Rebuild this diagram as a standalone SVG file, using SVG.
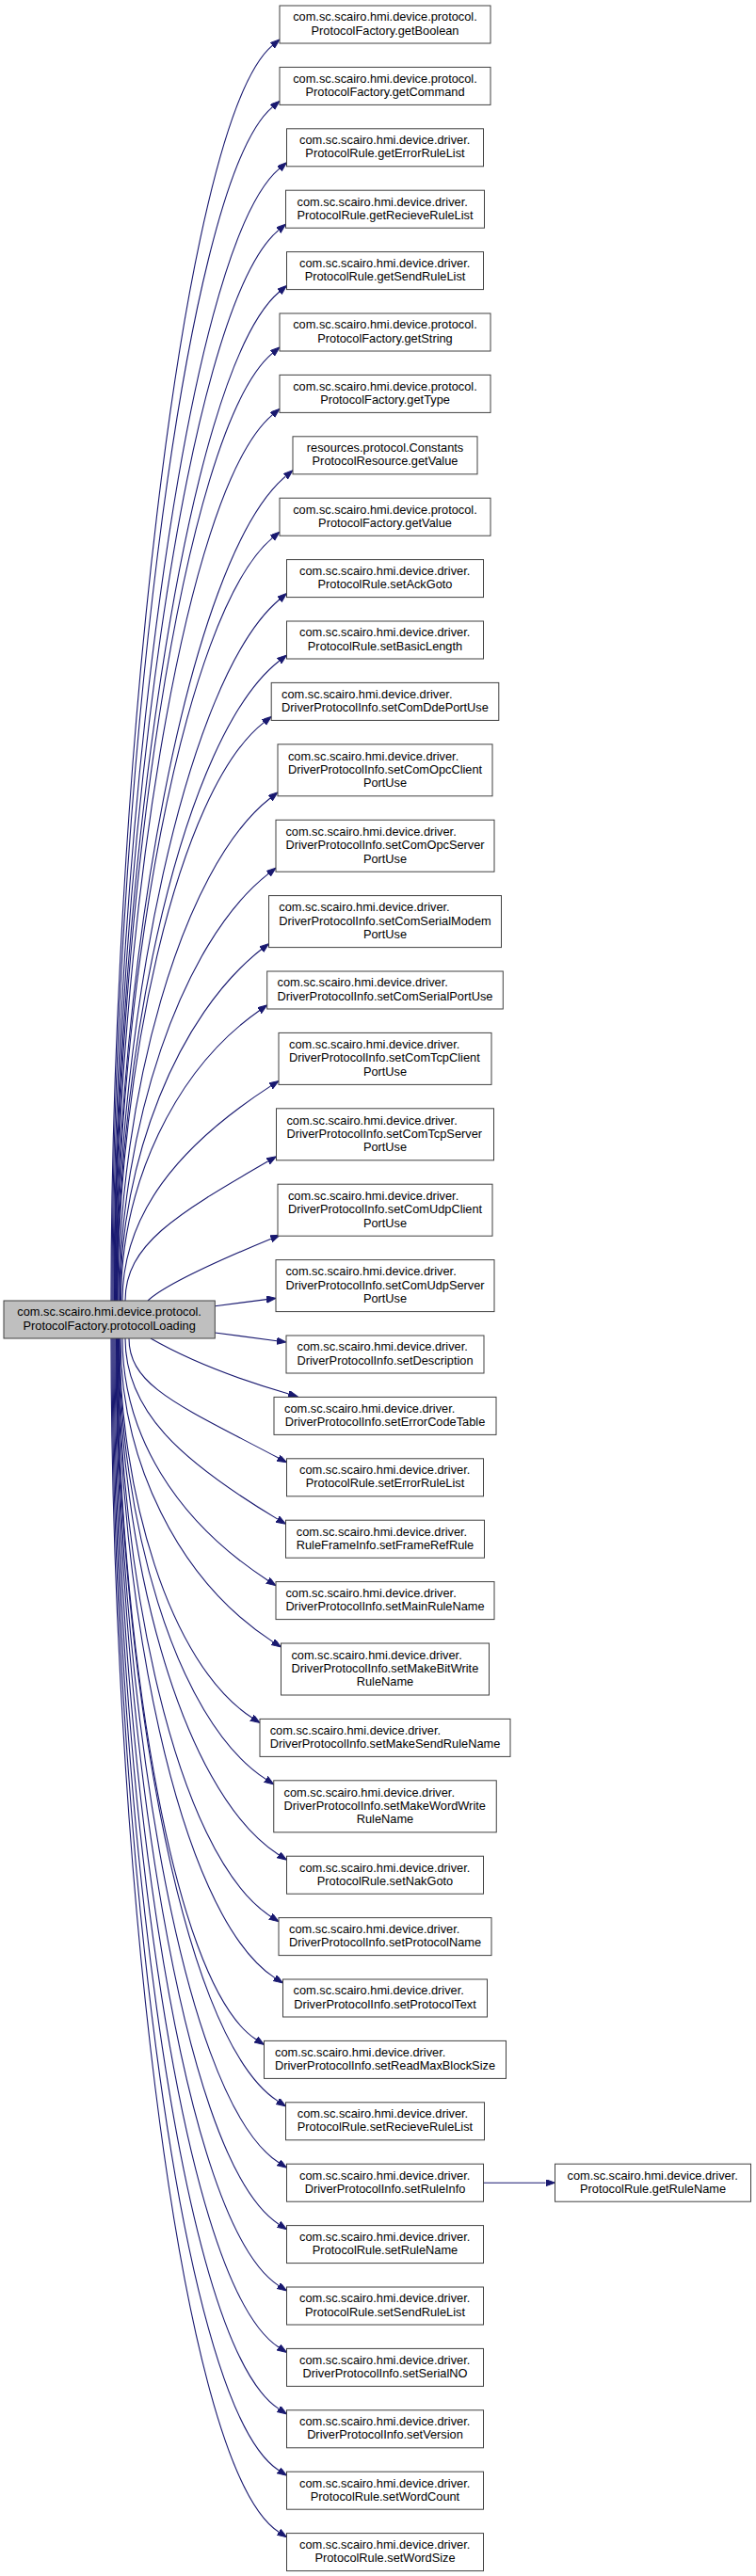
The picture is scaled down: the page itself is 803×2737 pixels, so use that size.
<svg xmlns="http://www.w3.org/2000/svg" width="803" height="2737" viewBox="0 0 803 2737">
<style>
rect{fill:#fff;stroke:#404040;stroke-width:1}
.m rect{fill:#bfbfbf}
text{font-family:"Liberation Sans",Arial,sans-serif;font-size:12.8px;fill:#000}
.c{text-anchor:middle}
#edges path{fill:none;stroke:#191970;stroke-width:1.1;marker-end:url(#ah)}
</style>
<defs>
<marker id="ah" markerWidth="11" markerHeight="8" refX="0" refY="3.6" orient="auto" markerUnits="userSpaceOnUse"><path d="M0,0 L10,3.6 L0,7.2 z" fill="#191970" stroke="#191970" stroke-width="1"/></marker>
</defs>
<g id="edges">
<path d="M118,1382 C118,848.6 190.9,131 289.3,48.4"/>
<path d="M119,1382 C119,874.7 191.5,195.9 289.3,113.8"/>
<path d="M120,1382 C120,900.9 195.2,264.5 296.8,179.2"/>
<path d="M121,1382 C121,927 195.4,328.9 295.8,244.6"/>
<path d="M121.5,1382 C121.5,953.2 196.1,394.6 296.8,310"/>
<path d="M122,1382 C122,979.4 193.2,456.1 289.3,375.4"/>
<path d="M122.5,1382 C122.5,1005.5 193.5,521.2 289.3,440.8"/>
<path d="M123,1382 C123,1031.7 199.7,593.1 303.3,506.2"/>
<path d="M123.5,1382 C123.5,1057.8 194,651.6 289.3,571.6"/>
<path d="M124,1382 C124,1084 197.5,720.3 296.8,637"/>
<path d="M124.5,1382 C124.5,1110.1 194.9,781.7 296.6,702.2"/>
<path d="M125,1382 C125,1136.2 188.5,839.4 280.3,767.6"/>
<path d="M126,1382 C126,1168.4 191.9,922.4 287.1,848"/>
<path d="M127,1382 C127,1200.6 191.6,1001.5 285.1,928.4"/>
<path d="M127.5,1382 C127.5,1232.7 188.9,1078.2 277.6,1008.8"/>
<path d="M128.5,1382 C128.5,1258.7 185.2,1137 275.5,1073.7"/>
<path d="M130,1382 C130,1290.8 188.4,1218.3 287.6,1153.9"/>
<path d="M133,1382 C133,1322.7 186.2,1290.8 284.8,1233.8"/>
<path d="M157,1382 C175,1365 240,1336 287.9,1316.2"/>
<path d="M228.3,1387.7 L283.1,1380.6"/>
<path d="M228.3,1416 L294.1,1424.7"/>
<path d="M160,1422 C200,1445 255,1466 306.6,1481"/>
<path d="M137,1422 C137,1472.8 190.6,1493.3 295.7,1549.1"/>
<path d="M133,1422 C133,1498.8 190.9,1551.6 294.9,1614.1"/>
<path d="M130,1422 C130,1524.9 187.3,1616 284.6,1679.2"/>
<path d="M128,1422 C128,1551 188.1,1678.3 290.1,1744.6"/>
<path d="M127,1422 C127,1583.2 179.1,1767.5 267.6,1825"/>
<path d="M126.5,1422 C126.5,1609.4 184.3,1826.7 282.4,1890.4"/>
<path d="M126,1422 C126,1641.5 189,1901.3 296.1,1970.8"/>
<path d="M125.5,1422 C125.5,1667.7 185.6,1969.9 287.6,2036.2"/>
<path d="M125,1422 C125,1693.8 187,2033.3 292.1,2101.6"/>
<path d="M124.5,1422 C124.5,1720 179.2,2106.7 272.1,2167"/>
<path d="M124,1422 C124,1746.2 187.5,2162.5 295.1,2232.4"/>
<path d="M123.5,1422 C123.5,1772.3 187.4,2227.2 296.1,2297.8"/>
<path d="M123,1422 C123,1798.5 187.2,2292.5 296.1,2363.2"/>
<path d="M122,1422 C122,1824.6 186.5,2357.4 296.1,2428.6"/>
<path d="M121,1422 C121,1850.8 185.9,2422.4 296.1,2494"/>
<path d="M120,1422 C120,1877 185.3,2487.4 296.1,2559.4"/>
<path d="M119,1422 C119,1903.1 184.7,2552.4 296.1,2624.8"/>
<path d="M118,1422 C118,1929.3 184,2617.4 296.1,2690.2"/>
<path d="M513.5,2319.2 L579.5,2319.2"/>
</g>
<g id="main" class="m"><rect x="4" y="1382" width="224.3" height="40"/><text x="18.35" y="1398.35">com.sc.scairo.hmi.device.protocol.</text><text class="c" x="116.15" y="1412.65">ProtocolFactory.protocolLoading</text></g>
<g id="n1"><rect x="297" y="6" width="224" height="40"/><text x="311.2" y="22.35">com.sc.scairo.hmi.device.protocol.</text><text class="c" x="409" y="36.65">ProtocolFactory.getBoolean</text></g>
<g id="n2"><rect x="297" y="71.4" width="224" height="40"/><text x="311.2" y="87.75">com.sc.scairo.hmi.device.protocol.</text><text class="c" x="409" y="102.05">ProtocolFactory.getCommand</text></g>
<g id="n3"><rect x="304.5" y="136.8" width="209" height="40"/><text x="318" y="153.15">com.sc.scairo.hmi.device.driver.</text><text class="c" x="409" y="167.45">ProtocolRule.getErrorRuleList</text></g>
<g id="n4"><rect x="303.5" y="202.2" width="211" height="40"/><text x="315.5" y="218.55">com.sc.scairo.hmi.device.driver.</text><text class="c" x="409" y="232.85">ProtocolRule.getRecieveRuleList</text></g>
<g id="n5"><rect x="304.5" y="267.6" width="209" height="40"/><text x="318" y="283.95">com.sc.scairo.hmi.device.driver.</text><text class="c" x="409" y="298.25">ProtocolRule.getSendRuleList</text></g>
<g id="n6"><rect x="297" y="333" width="224" height="40"/><text x="311.2" y="349.35">com.sc.scairo.hmi.device.protocol.</text><text class="c" x="409" y="363.65">ProtocolFactory.getString</text></g>
<g id="n7"><rect x="297" y="398.4" width="224" height="40"/><text x="311.2" y="414.75">com.sc.scairo.hmi.device.protocol.</text><text class="c" x="409" y="429.05">ProtocolFactory.getType</text></g>
<g id="n8"><rect x="311" y="463.8" width="196" height="40"/><text x="325.8" y="480.15">resources.protocol.Constants</text><text class="c" x="409" y="494.45">ProtocolResource.getValue</text></g>
<g id="n9"><rect x="297" y="529.2" width="224" height="40"/><text x="311.2" y="545.55">com.sc.scairo.hmi.device.protocol.</text><text class="c" x="409" y="559.85">ProtocolFactory.getValue</text></g>
<g id="n10"><rect x="304.5" y="594.6" width="209" height="40"/><text x="318" y="610.95">com.sc.scairo.hmi.device.driver.</text><text class="c" x="409" y="625.25">ProtocolRule.setAckGoto</text></g>
<g id="n11"><rect x="304.5" y="660" width="209" height="40"/><text x="318" y="676.35">com.sc.scairo.hmi.device.driver.</text><text class="c" x="409" y="690.65">ProtocolRule.setBasicLength</text></g>
<g id="n12"><rect x="288.2" y="725.4" width="241.6" height="40"/><text x="299.1" y="741.75">com.sc.scairo.hmi.device.driver.</text><text class="c" x="409" y="756.05">DriverProtocolInfo.setComDdePortUse</text></g>
<g id="n13"><rect x="295" y="790.8" width="228" height="55"/><text x="305.9" y="807.5">com.sc.scairo.hmi.device.driver.</text><text x="305.9" y="821.8">DriverProtocolInfo.setComOpcClient</text><text class="c" x="409" y="836.1">PortUse</text></g>
<g id="n14"><rect x="293" y="871.2" width="232" height="55"/><text x="303.4" y="887.9">com.sc.scairo.hmi.device.driver.</text><text x="303.4" y="902.2">DriverProtocolInfo.setComOpcServer</text><text class="c" x="409" y="916.5">PortUse</text></g>
<g id="n15"><rect x="285.5" y="951.6" width="247" height="55"/><text x="296.3" y="968.3">com.sc.scairo.hmi.device.driver.</text><text x="296.3" y="982.6">DriverProtocolInfo.setComSerialModem</text><text class="c" x="409" y="996.9">PortUse</text></g>
<g id="n16"><rect x="283.7" y="1032" width="250.6" height="40"/><text x="294.5" y="1048.35">com.sc.scairo.hmi.device.driver.</text><text class="c" x="409" y="1062.65">DriverProtocolInfo.setComSerialPortUse</text></g>
<g id="n17"><rect x="296" y="1097.4" width="226" height="55"/><text x="307" y="1114.1">com.sc.scairo.hmi.device.driver.</text><text x="307" y="1128.4">DriverProtocolInfo.setComTcpClient</text><text class="c" x="409" y="1142.7">PortUse</text></g>
<g id="n18"><rect x="293.5" y="1177.8" width="231" height="55"/><text x="304.4" y="1194.5">com.sc.scairo.hmi.device.driver.</text><text x="304.4" y="1208.8">DriverProtocolInfo.setComTcpServer</text><text class="c" x="409" y="1223.1">PortUse</text></g>
<g id="n19"><rect x="295" y="1258.2" width="228" height="55"/><text x="305.9" y="1274.9">com.sc.scairo.hmi.device.driver.</text><text x="305.9" y="1289.2">DriverProtocolInfo.setComUdpClient</text><text class="c" x="409" y="1303.5">PortUse</text></g>
<g id="n20"><rect x="293" y="1338.6" width="232" height="55"/><text x="303.4" y="1355.3">com.sc.scairo.hmi.device.driver.</text><text x="303.4" y="1369.6">DriverProtocolInfo.setComUdpServer</text><text class="c" x="409" y="1383.9">PortUse</text></g>
<g id="n21"><rect x="304" y="1419" width="210" height="40"/><text x="315.5" y="1435.35">com.sc.scairo.hmi.device.driver.</text><text class="c" x="409" y="1449.65">DriverProtocolInfo.setDescription</text></g>
<g id="n22"><rect x="291" y="1484.4" width="236" height="40"/><text x="302" y="1500.75">com.sc.scairo.hmi.device.driver.</text><text class="c" x="409" y="1515.05">DriverProtocolInfo.setErrorCodeTable</text></g>
<g id="n23"><rect x="304.5" y="1549.8" width="209" height="40"/><text x="318" y="1566.15">com.sc.scairo.hmi.device.driver.</text><text class="c" x="409" y="1580.45">ProtocolRule.setErrorRuleList</text></g>
<g id="n24"><rect x="303.5" y="1615.2" width="211" height="40"/><text x="314.8" y="1631.55">com.sc.scairo.hmi.device.driver.</text><text class="c" x="409" y="1645.85">RuleFrameInfo.setFrameRefRule</text></g>
<g id="n25"><rect x="293" y="1680.6" width="232" height="40"/><text x="303.4" y="1696.95">com.sc.scairo.hmi.device.driver.</text><text class="c" x="409" y="1711.25">DriverProtocolInfo.setMainRuleName</text></g>
<g id="n26"><rect x="298.5" y="1746" width="221" height="55"/><text x="309.4" y="1762.7">com.sc.scairo.hmi.device.driver.</text><text x="309.4" y="1777">DriverProtocolInfo.setMakeBitWrite</text><text class="c" x="409" y="1791.3">RuleName</text></g>
<g id="n27"><rect x="276" y="1826.4" width="266" height="40"/><text x="286.7" y="1842.75">com.sc.scairo.hmi.device.driver.</text><text class="c" x="409" y="1857.05">DriverProtocolInfo.setMakeSendRuleName</text></g>
<g id="n28"><rect x="290.75" y="1891.8" width="236.5" height="55"/><text x="301.6" y="1908.5">com.sc.scairo.hmi.device.driver.</text><text x="301.6" y="1922.8">DriverProtocolInfo.setMakeWordWrite</text><text class="c" x="409" y="1937.1">RuleName</text></g>
<g id="n29"><rect x="304.5" y="1972.2" width="209" height="40"/><text x="318" y="1988.55">com.sc.scairo.hmi.device.driver.</text><text class="c" x="409" y="2002.85">ProtocolRule.setNakGoto</text></g>
<g id="n30"><rect x="296" y="2037.6" width="226" height="40"/><text x="307" y="2053.95">com.sc.scairo.hmi.device.driver.</text><text class="c" x="409" y="2068.25">DriverProtocolInfo.setProtocolName</text></g>
<g id="n31"><rect x="300.5" y="2103" width="217" height="40"/><text x="311.5" y="2119.35">com.sc.scairo.hmi.device.driver.</text><text class="c" x="409" y="2133.65">DriverProtocolInfo.setProtocolText</text></g>
<g id="n32"><rect x="280.5" y="2168.4" width="257" height="40"/><text x="292" y="2184.75">com.sc.scairo.hmi.device.driver.</text><text class="c" x="409" y="2199.05">DriverProtocolInfo.setReadMaxBlockSize</text></g>
<g id="n33"><rect x="303.5" y="2233.8" width="211" height="40"/><text x="315.8" y="2250.15">com.sc.scairo.hmi.device.driver.</text><text class="c" x="409" y="2264.45">ProtocolRule.setRecieveRuleList</text></g>
<g id="n34"><rect x="304.5" y="2299.2" width="209" height="40"/><text x="318" y="2315.55">com.sc.scairo.hmi.device.driver.</text><text class="c" x="409" y="2329.85">DriverProtocolInfo.setRuleInfo</text></g>
<g id="n35"><rect x="304.5" y="2364.6" width="209" height="40"/><text x="318" y="2380.95">com.sc.scairo.hmi.device.driver.</text><text class="c" x="409" y="2395.25">ProtocolRule.setRuleName</text></g>
<g id="n36"><rect x="304.5" y="2430" width="209" height="40"/><text x="318" y="2446.35">com.sc.scairo.hmi.device.driver.</text><text class="c" x="409" y="2460.65">ProtocolRule.setSendRuleList</text></g>
<g id="n37"><rect x="304.5" y="2495.4" width="209" height="40"/><text x="318" y="2511.75">com.sc.scairo.hmi.device.driver.</text><text class="c" x="409" y="2526.05">DriverProtocolInfo.setSerialNO</text></g>
<g id="n38"><rect x="304.5" y="2560.8" width="209" height="40"/><text x="318" y="2577.15">com.sc.scairo.hmi.device.driver.</text><text class="c" x="409" y="2591.45">DriverProtocolInfo.setVersion</text></g>
<g id="n39"><rect x="304.5" y="2626.2" width="209" height="40"/><text x="318" y="2642.55">com.sc.scairo.hmi.device.driver.</text><text class="c" x="409" y="2656.85">ProtocolRule.setWordCount</text></g>
<g id="n40"><rect x="304.5" y="2691.6" width="209" height="40"/><text x="318" y="2707.95">com.sc.scairo.hmi.device.driver.</text><text class="c" x="409" y="2722.25">ProtocolRule.setWordSize</text></g>
<g id="n41"><rect x="589.5" y="2299.2" width="208" height="40"/><text x="602.5" y="2315.55">com.sc.scairo.hmi.device.driver.</text><text class="c" x="693.5" y="2329.85">ProtocolRule.getRuleName</text></g>
</svg>
